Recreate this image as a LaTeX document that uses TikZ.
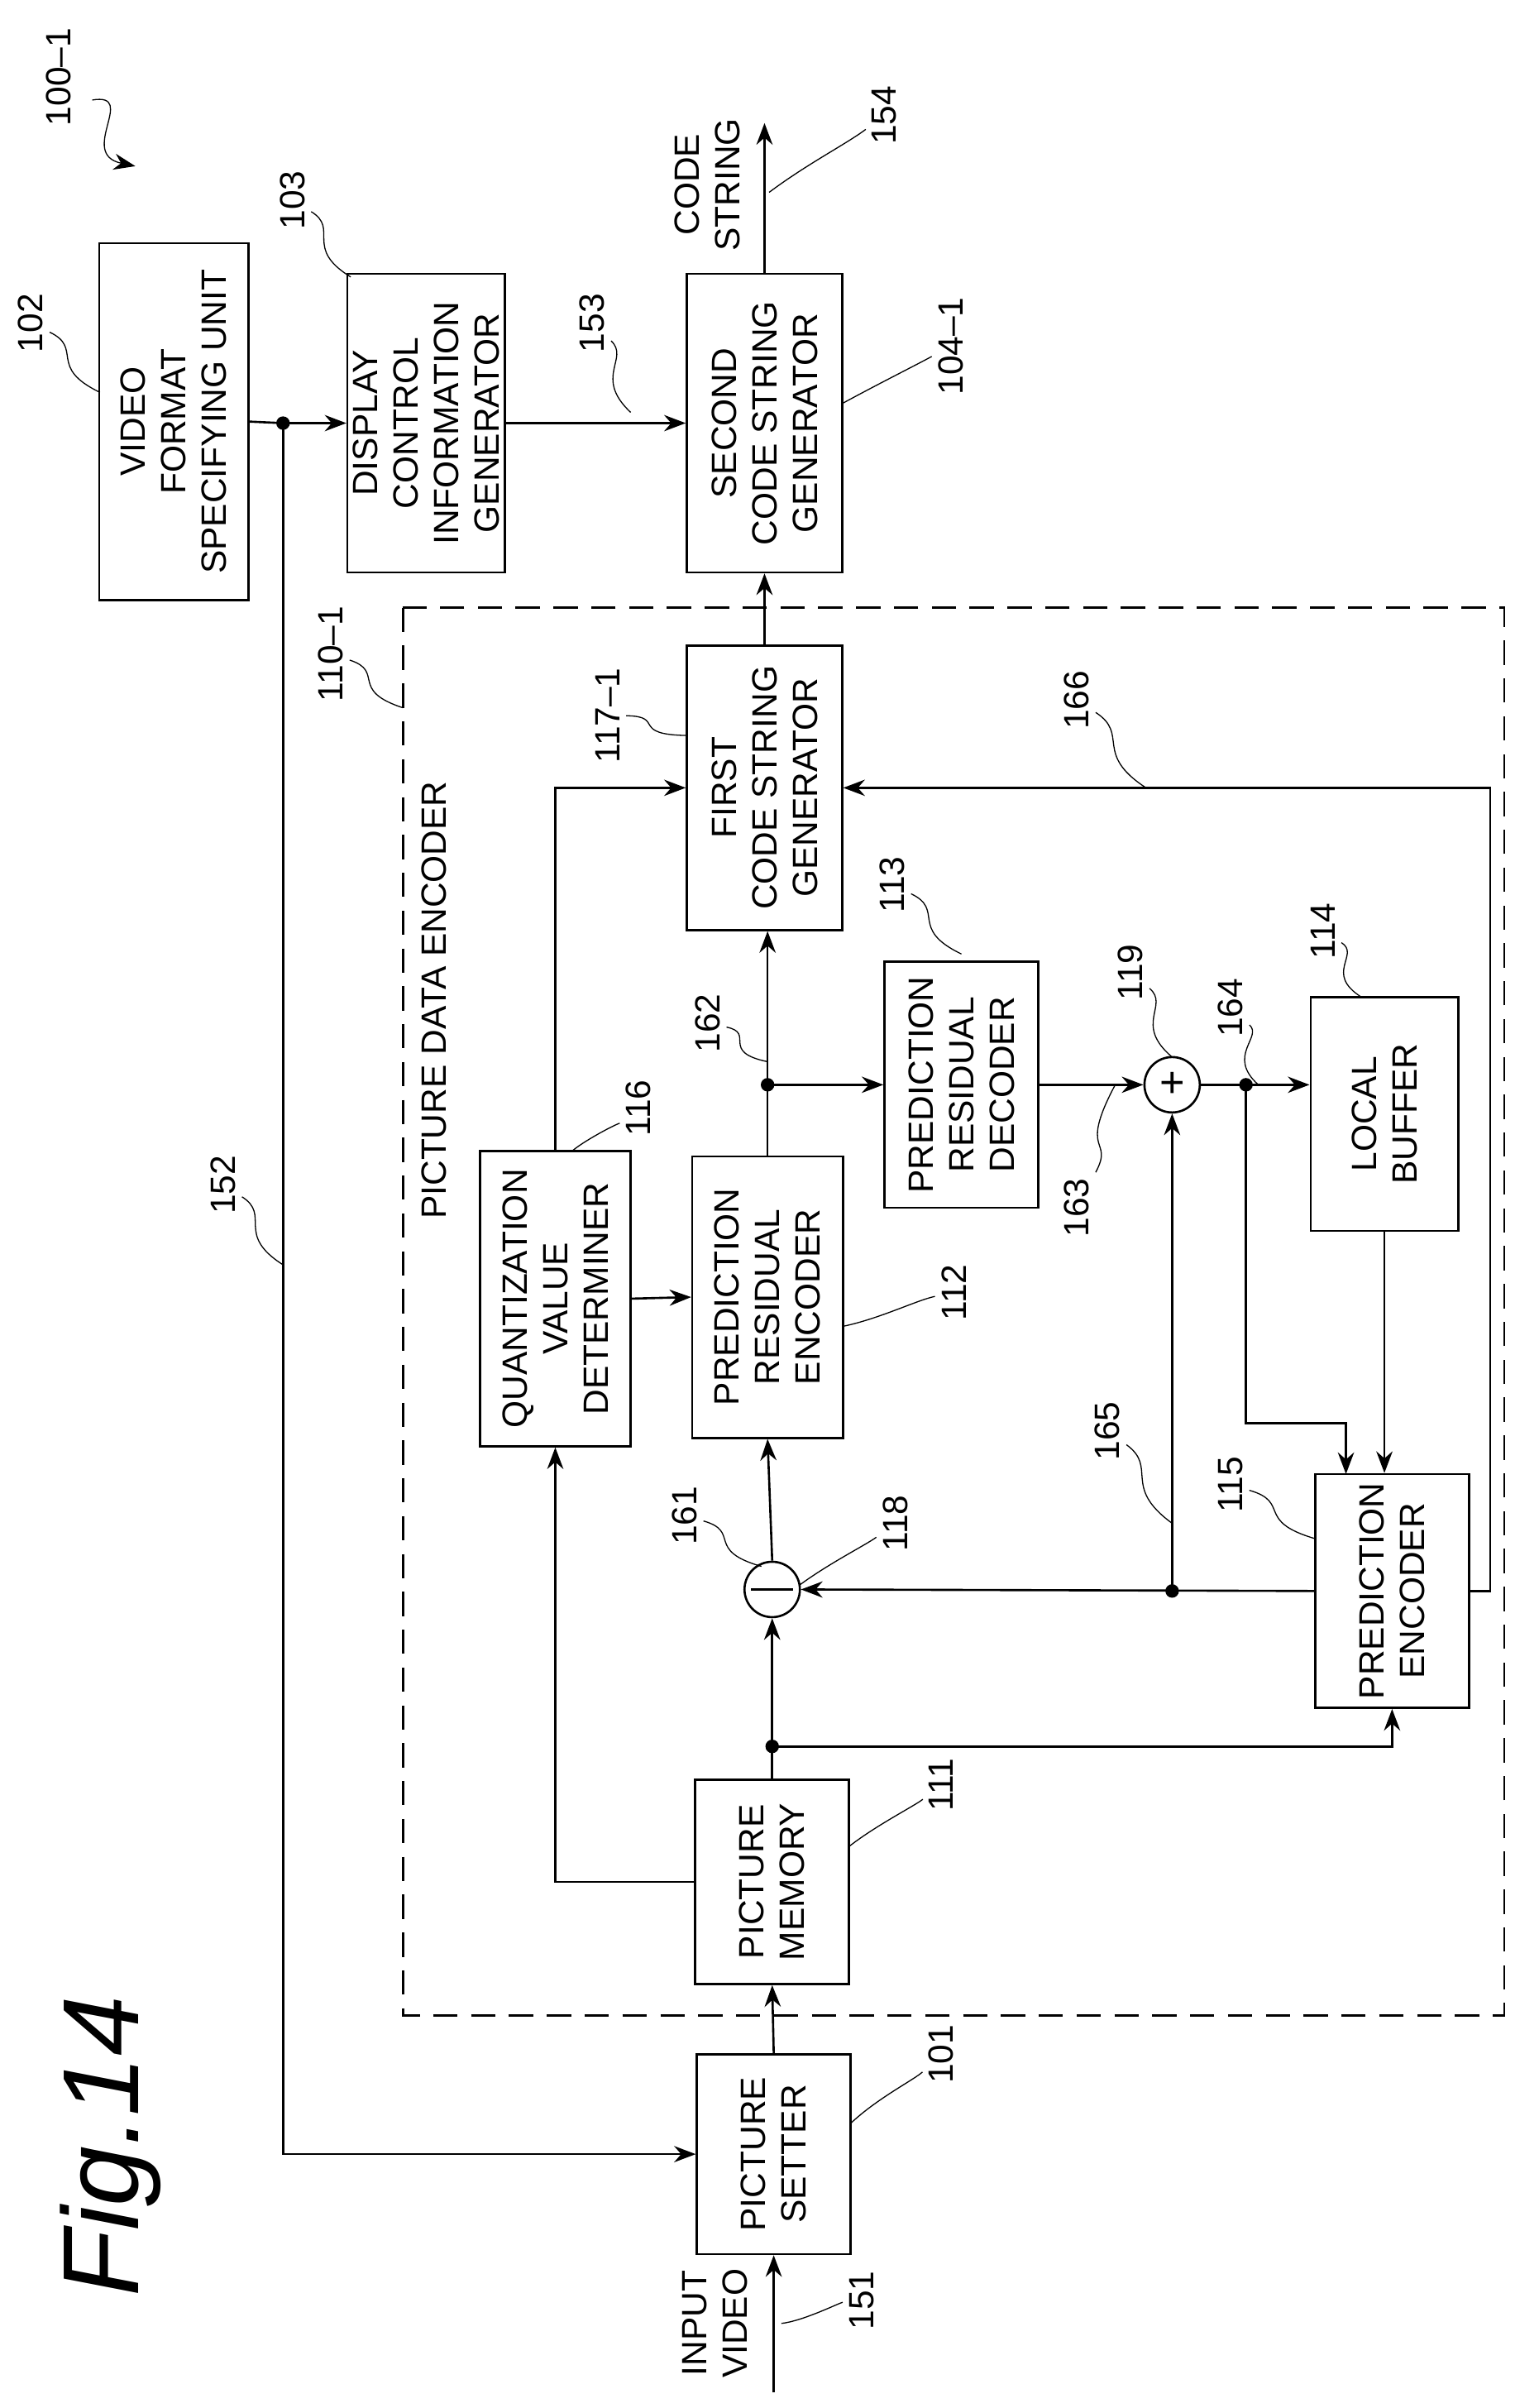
\documentclass[tikz,border=0pt]{standalone}
\usepackage{fontspec}
\setmainfont{Liberation Sans}
\usetikzlibrary{calc,arrows.meta}

\tikzset{
  blk/.style={draw, thick, rotate=90, align=center, inner sep=2pt, font=\fontsize{13}{15}\selectfont},
  lbl/.style={rotate=90, font=\fontsize{13}{15}\selectfont, inner sep=2pt},
  sum/.style={draw, thick, circle, minimum size=0.72cm, inner sep=0pt},
  dot/.style={circle, fill, inner sep=0pt, minimum size=5pt},
  every path/.append style={>={Stealth[length=8pt,width=6pt]}}
}

\newcommand{\lead}[3]{%
  \node[lbl] (#1) at #2 {#1};
  \draw[thin] (#1) .. controls ($#2!0.5!#3+(12,-6)$) and ($#2!0.5!#3+(-12,6)$) .. #3;}

\begin{document}
\begin{tikzpicture}[x=0.02cm, y=-0.02cm, thick]
\useasboundingbox (0,0) rectangle (1000,1565);

\node[blk, minimum width=4.64cm, minimum height=1.94cm] (vfs) at (113,274) {VIDEO\\FORMAT\\SPECIFYING UNIT};
\node[blk, minimum width=3.88cm, minimum height=1.98cm] (dcig) at (277,275) {DISPLAY\\CONTROL\\INFORMATION\\GENERATOR};
\node[blk, minimum width=3.88cm, minimum height=2.02cm] (scg) at (497,275) {SECOND\\CODE STRING\\GENERATOR};
\node[blk, minimum width=3.7cm, minimum height=2.02cm] (fcg) at (497,512) {FIRST\\CODE STRING\\GENERATOR};
\node[blk, minimum width=3.84cm, minimum height=1.96cm] (qvd) at (361,844) {QUANTIZATION\\VALUE\\DETERMINER};
\node[blk, minimum width=3.66cm, minimum height=1.96cm] (pre) at (499,843) {PREDICTION\\RESIDUAL\\ENCODER};
\node[blk, minimum width=3.2cm, minimum height=2.0cm] (prd) at (625,705) {PREDICTION\\RESIDUAL\\DECODER};
\node[blk, minimum width=3.04cm, minimum height=1.92cm] (lb) at (900,724) {LOCAL\\BUFFER};
\node[blk, minimum width=3.04cm, minimum height=2.0cm] (pe) at (905,1034) {PREDICTION\\ENCODER};
\node[blk, minimum width=2.66cm, minimum height=2.0cm] (pm) at (502,1223) {PICTURE\\MEMORY};
\node[blk, minimum width=2.6cm, minimum height=2.0cm] (ps) at (503,1400) {PICTURE\\SETTER};
\node[sum] (mc) at (502,1033) {};
\draw (mc.west) ++(5,0) -- ($(mc.east)+(-5,0)$);
\node[sum, font=\fontsize{16}{16}\selectfont] (pc) at (762,705) {+};

% encoder frame
\draw[dashed, dash pattern=on 9pt off 5pt] (262,395) rectangle (978,1310);
\node[lbl] (pdetxt) at (282,650) {PICTURE DATA ENCODER};

% connectors
\coordinate (d152) at (184,275);
\coordinate (out) at (497,80);
\coordinate (in) at (503,1555);
\coordinate (d162) at (pre.east |- pc);
\coordinate (d164) at (810,705);
\coordinate (d165) at (pc |- pe.north);
\coordinate (d111) at (502,1135);
\coordinate (pein) at (875,958);
\draw (vfs.south) -- (d152);
\draw[->] (d152) -- (dcig.north);
\draw[->] (d152) |- (ps.north);
\draw[->] (dcig.south) -- (scg.north);
\draw[->] (scg.east) -- (out);
\draw[->] (fcg.west |- fcg.east) -- (scg.west);
\draw[->] (pre.east) -- (pre.east |- fcg.west);
\draw[->] (d162) -- (prd.north);
\draw[->] (prd.south) -- (pc.west);
\draw[->] (pc.east) -- (lb.north |- pc);
\draw[->] (d164) |- (875,925) -- (pein);
\draw[->] (lb.west) -- (lb.west |- pe.east);
\draw[->] (pe.north) -- (mc.east);
\draw[->] (d165) -- (pc.south);
\draw[->] (pe.south) -- ++(13,0) |- (fcg.south);
\draw[->] (qvd.east) |- (fcg.north);
\draw[->] (qvd.south) -- (pre.north);
\draw[->] (pm.north) -| (qvd.west);
\draw[->] (pm.east) -- (mc.south);
\draw[->] (d111) -| (pe.west);
\draw[->] (mc.north) -- (pre.west);
\draw[->] (ps.east) -- (pm.west);
\draw[->] (in) -- (ps.west);
\foreach \d in {d152,d162,d164,d165,d111} \node[dot] at (\d) {};

% texts and reference numbers
\node[lbl, align=center] (cstxt) at (460,120) {CODE\\STRING};
\node[lbl, align=center] (ivtxt) at (465,1510) {INPUT\\VIDEO};
\node[rotate=90, font=\fontsize{40}{40}\itshape] (fig) at (72,1395) {Fig.14};
\node[lbl] (sys) at (38,50) {100--1};
\draw[->, thin] (60,65) .. controls (90,60) and (50,100) .. (88,108);
\lead{102}{(20,210)}{(65,255)}
\lead{103}{(190,130)}{(228,180)}
\lead{153}{(385,210)}{(410,268)}
\lead{154}{(575,75)}{(500,125)}
\lead{104--1}{(618,225)}{(548,262)}
\lead{110--1}{(215,425)}{(262,460)}
\lead{117--1}{(395,465)}{(447,478)}
\lead{166}{(700,455)}{(745,512)}
\lead{113}{(580,575)}{(625,620)}
\lead{162}{(460,665)}{(499,690)}
\lead{119}{(735,632)}{(762,687)}
\lead{164}{(800,655)}{(818,705)}
\lead{114}{(860,605)}{(885,648)}
\lead{116}{(415,720)}{(372,748)}
\lead{152}{(145,770)}{(184,822)}
\lead{163}{(700,785)}{(725,705)}
\lead{112}{(620,840)}{(548,862)}
\lead{165}{(720,930)}{(762,990)}
\lead{115}{(800,965)}{(855,1000)}
\lead{161}{(445,985)}{(495,1018)}
\lead{118}{(582,990)}{(520,1030)}
\lead{111}{(612,1160)}{(552,1200)}
\lead{101}{(612,1335)}{(553,1380)}
\lead{151}{(560,1495)}{(508,1510)}
\end{tikzpicture}
\end{document}
